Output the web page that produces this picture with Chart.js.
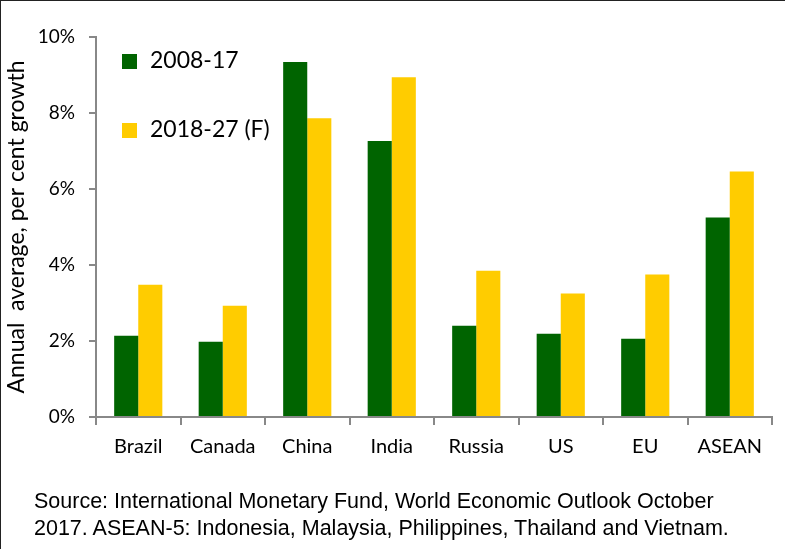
<!DOCTYPE html>
<html>
<head>
<meta charset="utf-8">
<script src="https://cdn.jsdelivr.net/npm/chart.js@4.4.0/dist/chart.umd.min.js"></script>
<style>
  html, body { margin: 0; padding: 0; background: #fff; }
  #wrap {
    position: relative; width: 785px; height: 549px; box-sizing: border-box;
    border-top: 1px solid #222; border-left: 1px solid #222;
  }
  #wrap canvas { position: absolute; left: 0; top: 0; }
  .leg { position: absolute; left: 121px; font: 23px Lato, sans-serif; color: #000; }
  .leg span.sw { display: inline-block; width: 15px; height: 15px; margin-right: 13px; vertical-align: -1px; }
  #source {
    position: absolute; left: 33px; top: 487px; font: 21.5px "Liberation Sans", Arial, sans-serif;
    line-height: 27px; color: #000;
  }
</style>
</head>
<body>
<div id="wrap">
  <canvas id="chart" width="784" height="548"></canvas>
  <div class="leg" style="top:44px"><span class="sw" style="background:#006400"></span>2008-17</div>
  <div class="leg" style="top:113px"><span class="sw" style="background:#ffcc00"></span>2018-27 (F)</div>
  <div id="source">Source: International Monetary Fund, World Economic Outlook October<br>2017. ASEAN-5: Indonesia, Malaysia, Philippines, Thailand and Vietnam.</div>
</div>
<script>
const regions = ["Brazil", "Canada", "China", "India", "Russia", "US", "EU", "ASEAN"];
const past = [2.14, 1.98, 9.34, 7.26, 2.40, 2.19, 2.06, 5.25];
const forecast = [3.48, 2.93, 7.86, 8.94, 3.85, 3.25, 3.75, 6.46];
const yTicks = [0, 2, 4, 6, 8, 10];

const axisGrey = "#888888";

new Chart(document.getElementById("chart"), {
  type: "bar",
  data: {
    labels: regions,
    datasets: [
      { label: "2008-17", data: past, backgroundColor: "#006400" },
      { label: "2018-27 (F)", data: forecast, backgroundColor: "#ffcc00" }
    ]
  },
  options: {
    responsive: false,
    animation: false,
    layout: { padding: { top: 36, right: 13, left: 0, bottom: 82 } },
    plugins: { legend: { display: false }, tooltip: { enabled: false } },
    datasets: { bar: { categoryPercentage: 0.57, barPercentage: 1 } },
    scales: {
      x: {
        grid: { display: true, drawOnChartArea: false, offset: true, color: axisGrey, tickLength: 8, lineWidth: 2 },
        border: { color: axisGrey, width: 2 },
        ticks: { color: "#000", font: { family: "Lato", size: 20 }, padding: 10 },
        afterFit: (s) => { s.height = 50; }
      },
      y: {
        min: 0, max: 10,
        afterBuildTicks: (s) => { s.ticks = yTicks.map(v => ({ value: v })); },
        grid: { display: true, drawOnChartArea: false, color: axisGrey, tickLength: 7, lineWidth: 2 },
        border: { color: axisGrey, width: 2 },
        ticks: { color: "#000", font: { family: "Lato", size: 19 }, padding: 14, callback: v => v + "%" },
        title: { display: true, text: "Annual  average, per cent growth", color: "#000",
                 font: { family: "Lato", size: 23 }, padding: { top: 2, bottom: 0 } },
        afterFit: (s) => { s.width = 95; }
      }
    }
  }
});
</script>
</body>
</html>
